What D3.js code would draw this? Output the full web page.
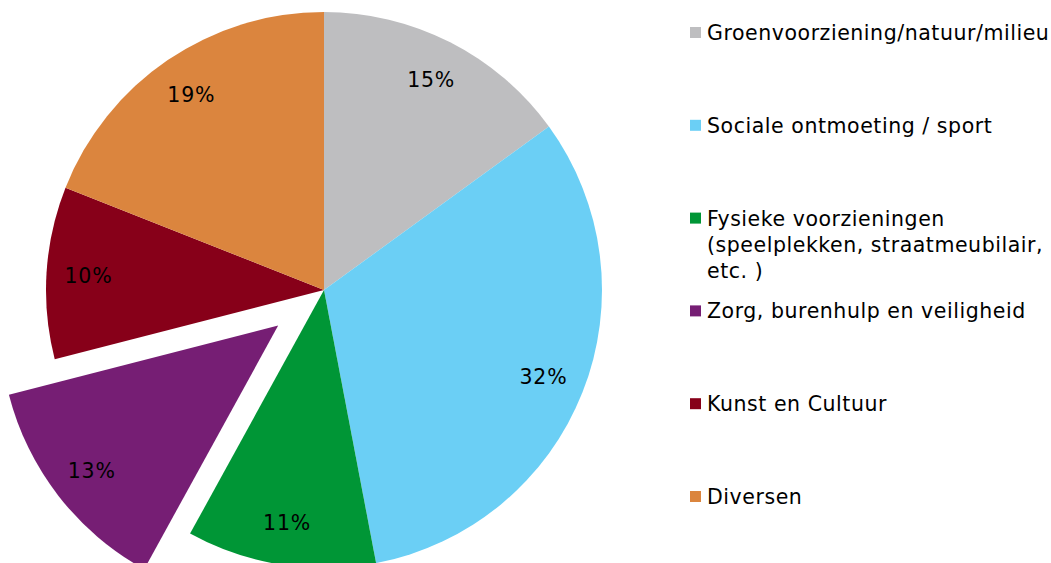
<!DOCTYPE html>
<html>
<head>
<meta charset="utf-8">
<script src="https://cdn.jsdelivr.net/npm/d3@7"></script>
<style>
  body { margin: 0; background: #fff; }
  svg { display: block; font-family: 'DejaVu Sans', Verdana, sans-serif; }
</style>
</head>
<body>
<script>
const categories = [
  ['Groenvoorziening/natuur/milieu'],
  ['Sociale ontmoeting / sport'],
  ['Fysieke voorzieningen', '(speelplekken, straatmeubilair,', 'etc. )'],
  ['Zorg, burenhulp en veiligheid'],
  ['Kunst en Cultuur'],
  ['Diversen'],
];
const values = [15, 32, 11, 13, 10, 19];
const colors = ['#bebec0', '#6bcff5', '#009636', '#761e74', '#870019', '#db853e'];
const exploded = [0, 0, 0, 1, 0, 0];

const width = 1051;
const height = 563;
const cx = 324;
const cy = 290;
const radius = 278;
const labelRadius = 236;
const explodeDist = 58;

const svg = d3.select('body')
  .append('svg')
  .attr('width', width)
  .attr('height', height);

const data = values.map((v, i) => ({ value: v, color: colors[i], label: categories[i], exploded: exploded[i] }));

const pie = d3.pie().value(d => d.value).sort(null);
const arc = d3.arc().innerRadius(0).outerRadius(radius);
const labelArc = d3.arc().innerRadius(labelRadius).outerRadius(labelRadius);

const slices = svg.append('g')
  .attr('transform', `translate(${cx}, ${cy})`)
  .selectAll('.slice')
  .data(pie(data))
  .enter()
  .append('g')
  .attr('class', 'slice')
  .attr('transform', d => {
    if (!d.data.exploded) return null;
    const mid = (d.startAngle + d.endAngle) / 2;
    return `translate(${Math.sin(mid) * explodeDist}, ${-Math.cos(mid) * explodeDist})`;
  });

slices.append('path')
  .attr('d', arc)
  .attr('fill', d => d.data.color);

slices.append('text')
  .attr('transform', d => `translate(${labelArc.centroid(d)})`)
  .attr('text-anchor', 'middle')
  .attr('dy', '0.36em')
  .attr('font-size', 20.5)
  .attr('letter-spacing', 0.8)
  .attr('fill', '#000')
  .text(d => `${d.data.value}%`);

const legend = svg.append('g')
  .attr('transform', 'translate(690, 40)');

const item = legend.selectAll('.legend-item')
  .data(data)
  .enter()
  .append('g')
  .attr('class', 'legend-item')
  .attr('transform', (d, i) => `translate(0, ${i * 92.8})`);

item.append('rect')
  .attr('x', 0)
  .attr('y', -13)
  .attr('width', 11)
  .attr('height', 11)
  .attr('fill', d => d.color);

item.append('text')
  .attr('x', 17)
  .attr('font-size', 20.5)
  .attr('letter-spacing', 0.55)
  .attr('fill', '#000')
  .selectAll('tspan')
  .data(d => d.label)
  .enter()
  .append('tspan')
  .attr('x', 17)
  .attr('dy', (d, i) => (i === 0 ? 0 : 26))
  .text(d => d);
</script>
</body>
</html>
